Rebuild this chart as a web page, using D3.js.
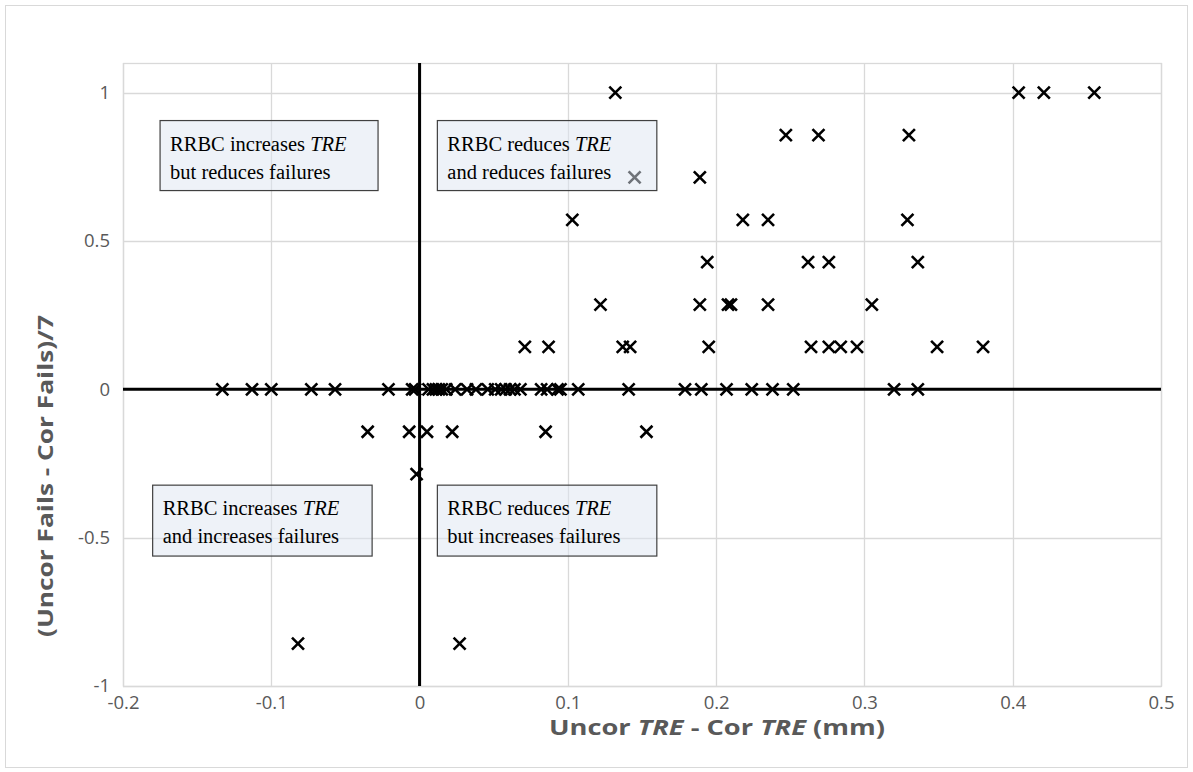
<!DOCTYPE html>
<html>
<head>
<meta charset="utf-8">
<script src="https://cdn.jsdelivr.net/npm/d3@7"></script>
<style>
  body { margin: 0; background: #fff; }
</style>
</head>
<body>
<div id="chart"></div>
<script>
// TRE difference (mm) for each case, grouped by fail difference (in sevenths)
var treAtPlus7 = [0.132, 0.404, 0.421, 0.455];
var treAtPlus6 = [0.247, 0.269, 0.330];
var treAtPlus5 = [0.145, 0.189];
var treAtPlus4 = [0.103, 0.218, 0.235, 0.329];
var treAtPlus3 = [0.194, 0.262, 0.276, 0.336];
var treAtPlus2 = [0.122, 0.189, 0.208, 0.210, 0.235, 0.305];
var treAtPlus1 = [0.071, 0.087, 0.137, 0.142, 0.195, 0.264, 0.276, 0.284, 0.295, 0.349, 0.380];
var treAtZero = [-0.133, -0.113, -0.100, -0.073, -0.057, -0.021, -0.005, -0.003,
  0.006, 0.009, 0.011, 0.013, 0.015, 0.018, 0.024, 0.032, 0.038, 0.046, 0.051,
  0.055, 0.058, 0.061, 0.064, 0.068, 0.082, 0.086, 0.093, 0.095, 0.107, 0.141,
  0.179, 0.190, 0.207, 0.224, 0.238, 0.252, 0.320, 0.336];
var treAtMinus1 = [-0.035, -0.007, 0.005, 0.022, 0.085, 0.153];
var treAtMinus2 = [-0.002];
var treAtMinus6 = [-0.082, 0.027];

var failSteps = [7, 6, 5, 4, 3, 2, 1, 0, -1, -2, -6];
var treGroups = [treAtPlus7, treAtPlus6, treAtPlus5, treAtPlus4, treAtPlus3, treAtPlus2,
  treAtPlus1, treAtZero, treAtMinus1, treAtMinus2, treAtMinus6];

var xTicks = [-0.2, -0.1, 0, 0.1, 0.2, 0.3, 0.4, 0.5];
var xTickLabels = ["-0.2", "-0.1", "0", "0.1", "0.2", "0.3", "0.4", "0.5"];
var yTicks = [-1, -0.5, 0, 0.5, 1];
var yTickLabels = ["-1", "-0.5", "0", "0.5", "1"];

var quadrantLines = [
  ["RRBC increases ", "TRE", "but reduces failures"],
  ["RRBC reduces ", "TRE", "and reduces failures"],
  ["RRBC increases ", "TRE", "and increases failures"],
  ["RRBC reduces ", "TRE", "but increases failures"]
];
// box corners in data units [x0, x1, yTop, yBottom]
var quadrantBoxes = [
  [-0.175, -0.028, 0.906, 0.670],
  [0.012, 0.160, 0.906, 0.670],
  [-0.180, -0.032, -0.323, -0.562],
  [0.012, 0.160, -0.323, -0.562]
];

var points = [];
failSteps.forEach(function(s, i){
  treGroups[i].forEach(function(t){
    points.push({x: t, y: s / 7});
  });
});

var width = 1193, height = 772;
var plotLeft = 123, plotRight = 1161, plotTop = 63, plotBottom = 686;

var svg = d3.select("#chart").append("svg")
  .attr("width", width)
  .attr("height", height);

// chart border
svg.append("rect")
  .attr("x", 5.5).attr("y", 5.5)
  .attr("width", 1182).attr("height", 762)
  .attr("fill", "#fff")
  .attr("stroke", "#d9d9d9");

var x = d3.scaleLinear().domain([-0.2, 0.5]).range([plotLeft, plotRight]);
var y = d3.scaleLinear().domain([-1, 1.1]).range([plotBottom, plotTop]);

var grid = svg.append("g");
grid.selectAll(".vg").data(xTicks).enter().append("line")
  .attr("x1", function(d){ return Math.round(x(d)) + 0.5; })
  .attr("x2", function(d){ return Math.round(x(d)) + 0.5; })
  .attr("y1", plotTop).attr("y2", plotBottom)
  .attr("stroke", "#d9d9d9").attr("stroke-width", 1.3);
grid.selectAll(".hg").data(yTicks).enter().append("line")
  .attr("y1", function(d){ return Math.round(y(d)) + 0.5; })
  .attr("y2", function(d){ return Math.round(y(d)) + 0.5; })
  .attr("x1", plotLeft).attr("x2", plotRight)
  .attr("stroke", "#d9d9d9").attr("stroke-width", 1.3);
svg.append("rect")
  .attr("x", plotLeft + 0.5).attr("y", plotTop + 0.5)
  .attr("width", plotRight - plotLeft).attr("height", plotBottom - plotTop)
  .attr("fill", "none").attr("stroke", "#d9d9d9").attr("stroke-width", 1.3);

// zero lines
svg.append("line")
  .attr("x1", plotLeft).attr("x2", plotRight)
  .attr("y1", y(0)).attr("y2", y(0))
  .attr("stroke", "#000").attr("stroke-width", 3);
svg.append("line")
  .attr("x1", x(0)).attr("x2", x(0))
  .attr("y1", plotTop).attr("y2", plotBottom)
  .attr("stroke", "#000").attr("stroke-width", 3);

// tick labels
var xAxis = d3.axisBottom(x).tickValues(xTicks).tickSize(0).tickPadding(10)
  .tickFormat(function(d, i){ return xTickLabels[i]; });
var gx = svg.append("g").attr("transform", "translate(0," + plotBottom + ")").call(xAxis);
var yAxis = d3.axisLeft(y).tickValues(yTicks).tickSize(0).tickPadding(13)
  .tickFormat(function(d, i){ return yTickLabels[i]; });
var gy = svg.append("g").attr("transform", "translate(" + plotLeft + ",0)").call(yAxis);
[gx, gy].forEach(function(g){
  g.select(".domain").remove();
  g.selectAll("text")
    .attr("fill", "#595959")
    .style("font-family", "'Open Sans', sans-serif")
    .style("font-size", "18.5px");
});

// markers
var half = 6;
svg.selectAll(".pt").data(points).enter().append("path")
  .attr("class", "pt")
  .attr("d", function(d){
    var cx = x(d.x), cy = y(d.y);
    return "M" + (cx - half) + "," + (cy - half) + "L" + (cx + half) + "," + (cy + half) +
      "M" + (cx - half) + "," + (cy + half) + "L" + (cx + half) + "," + (cy - half);
  })
  .attr("stroke", "#000")
  .attr("stroke-width", 2.6)
  .attr("fill", "none");

// quadrant notes
var notes = svg.selectAll(".note").data(quadrantBoxes).enter().append("g").attr("class", "note");
notes.append("rect")
  .attr("x", function(d){ return x(d[0]); })
  .attr("y", function(d){ return y(d[2]); })
  .attr("width", function(d){ return x(d[1]) - x(d[0]); })
  .attr("height", function(d){ return y(d[3]) - y(d[2]); })
  .attr("fill", "#dde5f1")
  .attr("fill-opacity", 0.5)
  .attr("stroke", "#404040")
  .attr("stroke-width", 1.2);
notes.each(function(d, i){
  var g = d3.select(this);
  var lines = quadrantLines[i];
  var t1 = g.append("text")
    .attr("x", x(d[0]) + 10)
    .attr("y", y(d[2]) + 30)
    .style("font-family", "'Liberation Serif', 'Times New Roman', serif")
    .style("font-size", "20.5px")
    .attr("fill", "#000");
  t1.append("tspan").text(lines[0]);
  t1.append("tspan").style("font-style", "italic").text(lines[1]);
  g.append("text")
    .attr("x", x(d[0]) + 10)
    .attr("y", y(d[2]) + 58)
    .style("font-family", "'Liberation Serif', 'Times New Roman', serif")
    .style("font-size", "20.5px")
    .attr("fill", "#000")
    .text(lines[2]);
});

// axis titles
var xt = svg.append("text")
  .attr("x", 717).attr("y", 735)
  .attr("text-anchor", "middle")
  .attr("textLength", 336)
  .attr("lengthAdjust", "spacingAndGlyphs")
  .attr("fill", "#595959")
  .style("font-family", "'Open Sans', sans-serif")
  .style("font-size", "22px")
  .style("font-weight", "bold");
xt.append("tspan").text("Uncor ");
xt.append("tspan").style("font-style", "italic").text("TRE");
xt.append("tspan").text(" - Cor ");
xt.append("tspan").style("font-style", "italic").text("TRE");
xt.append("tspan").text(" (mm)");

svg.append("text")
  .attr("transform", "translate(53,476) rotate(-90)")
  .attr("text-anchor", "middle")
  .attr("textLength", 322)
  .attr("lengthAdjust", "spacingAndGlyphs")
  .attr("fill", "#595959")
  .style("font-family", "'Open Sans', sans-serif")
  .style("font-size", "22px")
  .style("font-weight", "bold")
  .text("(Uncor Fails - Cor Fails)/7");
</script>
</body>
</html>
